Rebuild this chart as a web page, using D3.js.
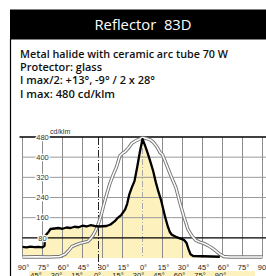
<!DOCTYPE html>
<html><head><meta charset="utf-8">
<script src="https://cdn.jsdelivr.net/npm/d3@7"></script>
<style>body{margin:0;background:#fff}svg{display:block}</style>
</head><body><svg id="c" width="266" height="276"></svg>
<script>
const title = "Reflector  83D";
const infoLines = ["Metal halide with ceramic arc tube 70 W", "Protector: glass", "I max/2: +13°, -9° / 2 x 28°", "I max: 480 cd/klm"];
const infoWidths = [208, 82, 135, 95];
const unitLabel = "cd/klm";
const yTicks = [80, 160, 240, 320, 400, 480];
const xTickAngles = [-90, -75, -60, -45, -30, -15, 0, 15, 30, 45, 60, 75, 90];
const xTickLabels = ["90°", "75°", "60°", "45°", "30°", "15°", "0°", "15°", "30°", "45°", "60°", "75°", "90°"];
const x2TickAngles = [-45, -30, -15, 0, 15, 30, 45, 60, 75, 90];
const x2TickLabels = ["45°", "30°", "15°", "0°", "15°", "30°", "45°", "60°", "75°", "90°"];
const blackAngles = [-90, -87, -84, -81, -78, -75, -73.5, -73, -71, -69, -66, -63, -60, -57, -54, -51, -48, -45, -42, -39, -36, -33, -30, -27, -24, -21, -19, -16, -13, -11.5, -10, -8, -6, -4, -2, 0, 2, 4, 6, 8, 10, 12, 14, 17, 19, 20.6, 22, 25, 28, 31, 33, 34.5, 36, 38, 45, 52, 58];
const blackValues = [44, 42, 45, 43, 44, 42, 48, 88, 100, 115, 117, 119, 116, 121, 119, 124, 122, 128, 125, 130, 127, 125, 126, 127, 133, 145, 157, 170, 193, 215, 250, 280, 305, 360, 420, 472, 445, 414, 380, 345, 300, 262, 228, 162, 125, 102, 92, 84, 78, 72, 60, 35, 15, 8, 7, 6, 5];
const whiteAngles = [-90, -80, -70, -62, -58, -55, -53, -50, -47, -44, -41, -39, -37, -35, -33, -31, -29.4, -27, -24.4, -22, -19.4, -17, -15, -13, -10, -8, -5, -2, 0, 3, 6, 8, 11, 13, 15, 18, 21, 25, 28, 31, 34, 37, 40, 43, 46, 49, 52, 55, 58, 61, 65, 80, 90];
const whiteValues = [4, 5, 4, 6, 15, 32, 45, 52, 58, 62, 66, 76, 91, 110, 138, 170, 204, 250, 296, 330, 362, 405, 415, 422, 440, 455, 465, 472, 478, 474, 468, 460, 440, 420, 410, 370, 330, 280, 220, 165, 115, 88, 70, 63, 58, 50, 40, 28, 15, 6, 4, 4, 4];

const svg = d3.select("#c");
const W = 266, H = 276;
const x = d3.scaleLinear().domain([-90, 90]).range([22.5, 262.5]);
const x2 = d3.scaleLinear().domain([0, 15]).range([96.5, 117]);
const y = d3.scaleLinear().domain([0, 480]).range([258, 137]);
const FONT = "'Open Sans','DejaVu Sans',sans-serif";

// header
svg.append("rect").attr("x", 10).attr("y", 9.5).attr("width", W - 10).attr("height", 30).attr("fill", "#000");
svg.append("text").attr("x", 143).attr("y", 30).attr("text-anchor", "middle")
  .attr("fill", "#fff").attr("font-family", FONT).attr("font-size", 14.5)
  .attr("textLength", 97).attr("lengthAdjust", "spacingAndGlyphs")
  .style("white-space", "pre").text(title);
svg.append("line").attr("x1", 10.5).attr("x2", 10.5).attr("y1", 39).attr("y2", H).attr("stroke", "#000").attr("stroke-width", 1.2);

infoLines.forEach((t, i) => {
  svg.append("text").attr("x", 20).attr("y", 58 + i * 13.2)
    .attr("font-family", FONT).attr("font-size", 11.5).attr("font-weight", 600).attr("fill", "#111")
    .attr("textLength", infoWidths[i]).attr("lengthAdjust", "spacingAndGlyphs").text(t);
});

const plot = svg.append("g");
// fill
const area = d3.area().x((d, i) => x(blackAngles[i])).y0(y(0)).y1((d) => y(d));
plot.append("path").datum(blackValues).attr("d", area).attr("fill", "#fdf1bd");

// vertical grid
xTickAngles.forEach(a => {
  plot.append("line").attr("x1", x(a)).attr("x2", x(a)).attr("y1", y(480)).attr("y2", y(0))
    .attr("stroke", a === 0 ? "#aaa" : "#8c8c8c").attr("stroke-width", 1)
    .attr("stroke-dasharray", a === 0 ? "6,2,1,2" : null);
});
// second-axis centre line
plot.append("line").attr("x1", x2(0) + 2).attr("x2", x2(0) + 2).attr("y1", y(480)).attr("y2", 268)
  .attr("stroke", "#222").attr("stroke-width", 1).attr("stroke-dasharray", "8,2,1,2");
// horizontal grid
yTicks.forEach(v => {
  const major = v === 80 || v === 480;
  plot.append("line").attr("x1", v === 480 ? 19.5 : x(-90)).attr("x2", W).attr("y1", y(v)).attr("y2", y(v))
    .attr("stroke", major ? "#000" : "#9a9a9a").attr("stroke-width", major ? 1.3 : 1);
});

// white double line
const line = d3.line().x((d, i) => x(whiteAngles[i])).y(d => y(d));
plot.append("path").datum(whiteValues).attr("d", line).attr("fill", "none").attr("stroke", "#777").attr("stroke-width", 3.4);
plot.append("path").datum(whiteValues).attr("d", line).attr("fill", "none").attr("stroke", "#fff").attr("stroke-width", 1.5);

// black line
const lineB = d3.line().x((d, i) => x(blackAngles[i])).y(d => y(d));
plot.append("path").datum(blackValues).attr("d", lineB).attr("fill", "none").attr("stroke", "#000").attr("stroke-width", 2.3).attr("stroke-linejoin", "round");

// y labels
yTicks.forEach(v => {
  svg.append("text").attr("x", x(-75)).attr("y", y(v) + 2.7).attr("text-anchor", "middle")
    .attr("font-family", "'Liberation Sans',sans-serif").attr("font-size", 7.5).attr("fill", "#333")
    .attr("stroke", "#fff").attr("stroke-width", 2.5).attr("paint-order", "stroke").text(v);
});
svg.append("text").attr("x", 50).attr("y", 134).attr("font-family", "'Liberation Sans',sans-serif")
  .attr("font-size", 7).attr("fill", "#333").text(unitLabel);

// x labels
xTickAngles.forEach((a, i) => {
  svg.append("text").attr("x", x(a) + 1).attr("y", 269.5).attr("text-anchor", "middle")
    .attr("font-family", "'Liberation Sans',sans-serif").attr("font-size", 7.5).attr("fill", "#222").text(xTickLabels[i]);
});
svg.append("rect").attr("x", 29).attr("y", 271).attr("width", 226).attr("height", 6).attr("fill", "#fdf1bd");
x2TickAngles.forEach((a, i) => {
  svg.append("text").attr("x", x2(a) + 1).attr("y", 277.5).attr("text-anchor", "middle")
    .attr("font-family", "'Liberation Sans',sans-serif").attr("font-size", 7.5).attr("fill", "#222").text(x2TickLabels[i]);
});
</script></body></html>
